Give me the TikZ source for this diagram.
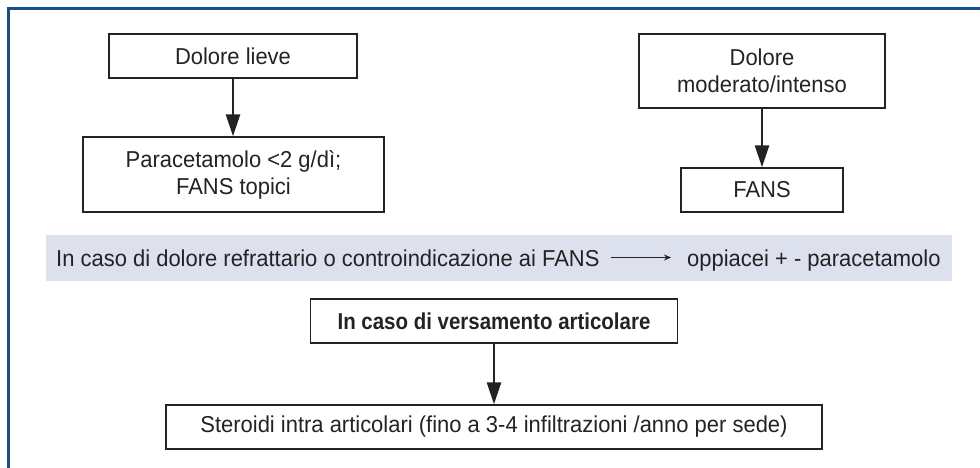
\documentclass[tikz,border=0pt]{standalone}
\usepackage{fontspec}
\setmainfont{Liberation Sans}[FakeStretch=0.955]
\newfontfamily\cnbold{Liberation Sans}[FakeStretch=0.89]
\usetikzlibrary{arrows.meta,calc}
\definecolor{framec}{RGB}{26,77,140}
\definecolor{bandc}{RGB}{221,224,237}
\definecolor{inkc}{RGB}{35,35,35}
\begin{document}
\begin{tikzpicture}[x=1pt,y=-1pt,
  every node/.style={font=\fontsize{23}{27}\selectfont, text=inkc},
  fbox/.style={draw=inkc, line width=1.4pt, rectangle, inner sep=0pt, align=center},
  flowarrow/.style={draw=inkc, line width=2.8pt, -{Triangle[width=14pt,length=22pt]}},
  bandarrow/.style={draw=inkc, line width=1pt, -{Stealth[length=7pt,width=6pt]}},
  bandtext/.style={inner sep=0pt, anchor=base west}]
\useasboundingbox (0,0) rectangle (980,468);
% frame
\draw[framec, line width=3pt] (980,9) -- (8,9) -- (8,468);
% boxes
\node[fbox, minimum width=248pt, minimum height=44pt] (a) at (233,56) {Dolore lieve};
\node[fbox, minimum width=301pt, minimum height=75pt] (b) at (233.5,174.5) {Paracetamolo <2 g/dì;\\FANS topici};
\node[fbox, minimum width=246pt, minimum height=74pt] (c) at (762,71) {Dolore\\moderato/intenso};
\node[fbox, minimum width=162pt, minimum height=44pt] (d) at (762,190) {FANS};
% band
\node[fill=bandc, draw=none, minimum width=906pt, minimum height=46pt, inner sep=0pt] (band) at (499,258) {};
\node[bandtext] (l) at (56,266) {In caso di dolore refrattario o controindicazione ai FANS};
\node[bandtext] (r) at (687,266) {oppiacei + - paracetamolo};
\draw[bandarrow] ($(l.base east)+(11,-8.5)$) -- ($(r.base west)+(-16,-8.5)$);
% lower
\node[fbox, minimum width=367pt, minimum height=44pt] (e) at (494,321) {{\cnbold\bfseries In caso di versamento articolare}};
\node[fbox, minimum width=656pt, minimum height=44pt] (f) at (494,427) {Steroidi intra articolari (fino a 3-4 infiltrazioni /anno per sede)};
% arrows
\draw[flowarrow] (a.south) -- (a.south |- b.north);
\draw[flowarrow] (c.south) -- (c.south |- d.north);
\draw[flowarrow] (e.south) -- (f.north);
\end{tikzpicture}
\end{document}
